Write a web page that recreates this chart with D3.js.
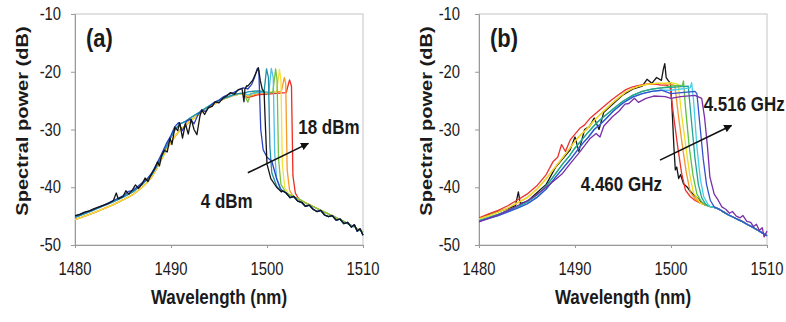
<!DOCTYPE html>
<html><head><meta charset="utf-8">
<script src="https://cdn.jsdelivr.net/npm/d3@7"></script>
<style>body{margin:0;background:#fff}svg{display:block}</style>
</head><body>
<svg id="c" width="786" height="322"></svg>
<script>
// ---------- tick labels ----------
const wavelengthTicks = [1480, 1490, 1500, 1510];
const powerTicks = [-10, -20, -30, -40, -50];

// ---------- panel (a): pump power sweep, 4..18 dBm ----------
const riseA_dark = [[1480,-44.9],[1480.5,-44.7],[1481,-44.3],[1481.5,-44.1],[1482,-43.7],[1482.5,-43.4],[1483,-43.1],[1483.5,-42.8],[1484,-42.3],[1484.3,-41.0],[1484.5,-42.0],[1485,-41.6],[1485.3,-40.6],[1485.6,-41.2],[1486,-40.4],[1486.3,-39.6],[1486.6,-40.2],[1487,-39.4],[1487.3,-38.4],[1487.6,-39.0],[1488,-37.6],[1488.3,-36.8],[1488.6,-35.6],[1488.8,-36.3],[1489.0,-34.6],[1489.3,-33.6],[1489.6,-33.9],[1489.9,-31.5],[1490.1,-32.6],[1490.4,-29.6],[1490.7,-30.2],[1490.9,-28.8],[1491.2,-31.5],[1491.5,-29.0],[1491.8,-30.8],[1492.1,-28.2],[1492.4,-30.0],[1492.7,-30.9],[1493.0,-27.8],[1493.2,-26.6],[1493.5,-27.4],[1493.9,-26.2],[1494.3,-26.0],[1494.6,-25.2],[1495.0,-25.4],[1495.4,-24.6],[1495.8,-24.2],[1496.2,-23.6],[1496.6,-23.9],[1497.0,-23.1],[1497.4,-22.9],[1497.6,-25.2],[1497.7,-23.0],[1497.9,-22.4]];
const riseA_blue = [[1480,-45.0],[1481,-44.4],[1482,-43.8],[1483,-43.1],[1484,-42.3],[1485,-41.5],[1485.6,-40.7],[1486,-40.6],[1487,-39.2],[1487.5,-38.6],[1488,-37.5],[1488.5,-36.0],[1489,-34.3],[1489.5,-32.5],[1490,-31.0],[1490.4,-29.5],[1490.8,-28.8],[1491.2,-30.2],[1491.6,-28.6],[1492,-28.2],[1492.4,-29.0],[1492.8,-27.5],[1493.2,-26.6],[1493.6,-26.9],[1494,-26.0],[1494.5,-25.3],[1495,-24.9],[1495.5,-24.3],[1496,-23.9],[1496.5,-23.6],[1497,-23.2],[1497.5,-22.8],[1497.9,-22.9]];
const riseA_cool = [[1480,-45.2],[1482,-43.9],[1484,-42.5],[1485,-41.7],[1486,-40.8],[1487,-39.5],[1488,-37.8],[1488.5,-36.4],[1489,-34.8],[1489.5,-33.0],[1490,-31.3],[1490.5,-29.8],[1491,-29.0],[1491.5,-28.6],[1492,-28.0],[1492.5,-27.5],[1493,-27.0],[1493.5,-26.4],[1494,-25.9],[1494.5,-25.4],[1495,-25.0],[1495.5,-24.6],[1496,-24.3],[1496.5,-24.0],[1497,-23.8],[1497.6,-23.7]];
const riseA_warm = [[1480,-45.6],[1481,-45.0],[1482,-44.4],[1483,-43.7],[1484,-43.0],[1485,-42.2],[1486,-41.3],[1487,-40.0],[1487.5,-39.2],[1488,-38.2],[1488.5,-36.8],[1489,-35.2],[1489.5,-33.6],[1490,-32.2],[1490.5,-31.0],[1491,-30.0],[1491.5,-29.3],[1492,-28.5],[1492.5,-27.9],[1493,-27.3],[1493.5,-26.7],[1494,-26.2],[1494.5,-25.6],[1495,-25.1],[1495.5,-24.7],[1496,-24.4],[1496.5,-24.1],[1497,-23.9],[1497.5,-23.8]];
const tailA_dark = [[1501.6,-40.6],[1502,-41.0],[1502.4,-41.8],[1502.8,-41.6],[1503.2,-42.4],[1503.6,-42.6],[1504,-43.3],[1504.4,-43.1],[1504.8,-43.8],[1505.2,-44.2],[1505.6,-44.0],[1506,-44.8],[1506.4,-45.1],[1506.8,-44.9],[1507.2,-45.7],[1507.6,-45.5],[1508,-46.3],[1508.4,-46.1],[1508.8,-46.9],[1509.1,-46.5],[1509.4,-47.6],[1509.7,-47.2],[1510,-48.3]];
const tailA_warm = [[1502,-40.8],[1502.5,-41.4],[1503,-41.8],[1503.5,-42.2],[1504,-42.7],[1504.5,-43.1],[1505,-43.5],[1505.5,-43.9],[1506,-44.3],[1506.5,-44.7],[1507,-45.1],[1507.5,-45.5],[1508,-45.9],[1508.5,-46.4],[1509,-46.8],[1509.5,-47.3],[1510,-47.8]];

const pumpLabels = ["18 dBm","16 dBm","14 dBm","12 dBm","10 dBm","8 dBm","4 dBm","6 dBm"];
const pumpColors = ["#ee2a1e","#f79a2a","#f2e23a","#78c043","#4cc0ea","#1f8fa6","#2742c4","#151515"];
const pumpRise = ["warm","warm","warm","cool","cool","cool","blue","dark"];
const pumpTail = ["warm","warm","warm","warm","dark","dark","dark","dark"];
const pumpEdges = [
  [[1498,-24.5],[1499,-24.0],[1502,-23.6],[1502.35,-21.4],[1502.55,-22.5],[1502.7,-38.0],[1502.95,-41.0],[1503.4,-42.3]],
  [[1498,-24.3],[1499,-23.8],[1501.5,-23.4],[1501.8,-21.0],[1501.95,-22.0],[1502.1,-37.0],[1502.35,-40.5],[1502.8,-41.8]],
  [[1498,-24.2],[1499,-23.6],[1501,-23.5],[1501.3,-19.6],[1501.45,-21.5],[1501.6,-36.0],[1501.85,-40.0],[1502.3,-41.3]],
  [[1498,-25.3],[1498.3,-23.8],[1499,-23.5],[1500.6,-23.6],[1500.9,-19.5],[1501.05,-21.5],[1501.2,-35.0],[1501.45,-39.5],[1502,-41.0]],
  [[1498,-24.0],[1499,-23.6],[1500.2,-23.5],[1500.45,-19.4],[1500.65,-21.0],[1500.8,-34.0],[1501.0,-38.5],[1501.5,-40.5]],
  [[1498,-23.5],[1499,-23.3],[1499.7,-23.4],[1499.95,-19.5],[1500.15,-21.0],[1500.3,-33.0],[1500.5,-37.5],[1501,-39.8],[1501.5,-40.8]],
  [[1498,-23.0],[1498.4,-22.2],[1498.7,-21.0],[1499.0,-19.4],[1499.15,-19.8],[1499.35,-30.0],[1499.6,-33.5],[1500,-34.8],[1500.5,-35.5],[1501,-38.5],[1501.4,-40.3]],
  [[1498,-22.5],[1498.5,-21.5],[1498.9,-20.0],[1499.1,-19.3],[1499.3,-21.5],[1499.5,-23.0],[1499.7,-23.5],[1499.8,-28.0],[1500.0,-36.0],[1500.4,-38.5],[1501,-40.0],[1501.5,-40.8]]
];

// ---------- panel (b): modulation frequency sweep, 4.460..4.516 GHz ----------
const riseB_black = [[1480,-45.4],[1481,-44.8],[1482,-44.2],[1483,-43.7],[1483.8,-43.2],[1484.1,-40.8],[1484.3,-42.8],[1485,-42.5],[1486,-41.0],[1487,-39.5],[1488,-36.5],[1489,-34.5],[1489.5,-33.5],[1490,-31.3],[1490.4,-33.8],[1491,-30.0],[1491.5,-29.5],[1492,-28.0],[1492.5,-30.0],[1493,-27.0],[1494,-25.5],[1495,-24.0],[1496,-23.0],[1497,-22.5],[1497.5,-21.3],[1498,-22.0],[1498.5,-21.0],[1499,-21.5],[1499.2,-19.6],[1499.35,-18.6],[1499.5,-21.0]];
const riseB_red = [[1480,-45.3],[1481,-44.6],[1482,-44.0],[1483,-43.2],[1484,-42.2],[1485,-41.2],[1486,-39.8],[1487,-37.8],[1487.7,-35.6],[1488.2,-34.8],[1488.6,-32.6],[1489.0,-33.8],[1489.5,-31.8],[1490.0,-30.8],[1490.5,-29.8],[1491,-29.2],[1491.6,-28.0],[1492.3,-27.0],[1493,-26.0],[1493.8,-24.9],[1494.6,-23.9],[1495.3,-23.1],[1496,-22.6],[1496.8,-22.3],[1497.6,-22.1],[1498.5,-22.2],[1499,-22.3]];
const riseB_warm = [[1480,-45.5],[1481,-44.9],[1482,-44.3],[1483,-43.6],[1484,-42.7],[1485,-41.8],[1486,-40.4],[1487,-38.5],[1488,-36.4],[1488.7,-34.9],[1489.4,-33.4],[1490,-32.0],[1490.6,-30.9],[1491.2,-30.0],[1491.8,-28.8],[1492.5,-27.6],[1493.2,-26.5],[1493.9,-25.4],[1494.6,-24.4],[1495.3,-23.5],[1496,-22.9],[1496.7,-22.5],[1497.5,-22.2],[1498.5,-22.0],[1499,-22.0]];
const riseB_cool = [[1480,-45.8],[1482,-44.7],[1484,-43.4],[1485,-42.6],[1486,-41.4],[1487,-39.8],[1488,-37.6],[1488.7,-36.0],[1489.4,-34.6],[1490,-33.2],[1490.6,-32.0],[1491.2,-30.8],[1492,-29.3],[1492.5,-28.5],[1493,-27.8],[1494,-26.4],[1495,-25.1],[1496,-24.1],[1497,-23.4],[1498,-23.0],[1499,-22.8]];
const riseB_mid = [[1480,-45.9],[1482,-44.9],[1484,-43.6],[1485,-42.9],[1486,-41.8],[1487,-40.3],[1488,-38.2],[1488.8,-36.6],[1489.5,-35.2],[1490.2,-33.7],[1490.8,-32.4],[1491.4,-31.3],[1492,-30.0],[1492.7,-29.0],[1493.3,-28.0],[1494,-26.8],[1495,-25.4],[1496,-24.4],[1497,-23.8],[1498,-23.4],[1499,-23.2]];
const riseB_violet = [[1480,-46.0],[1481,-45.4],[1482,-44.8],[1483,-44.0],[1484,-43.2],[1485.2,-42.2],[1486,-41.3],[1487,-40.0],[1488,-38.6],[1488.7,-37.6],[1489.5,-35.9],[1490.4,-34.1],[1491,-32.8],[1491.6,-31.5],[1492.2,-30.7],[1492.6,-31.3],[1493,-29.4],[1493.9,-27.8],[1494.6,-26.8],[1495.2,-25.6],[1495.6,-25.5],[1496.2,-24.6],[1496.6,-25.3],[1497.4,-24.6],[1498.2,-24.2],[1499.4,-24.3]];
const tailB = [[1501.2,-41.0],[1501.6,-41.5],[1502,-41.9],[1502.5,-42.3],[1503,-42.7],[1503.5,-43.0],[1504,-43.3],[1504.5,-43.5],[1505,-43.8],[1505.5,-44.3],[1506,-44.8],[1506.5,-45.2],[1507,-45.6],[1507.5,-46.0],[1508,-46.5],[1508.5,-46.9],[1509,-47.4],[1509.5,-47.9],[1510,-48.4]];
const tailB_violet = [[1505.3,-43.4],[1505.7,-43.8],[1506.1,-44.5],[1506.4,-44.2],[1506.8,-45.0],[1507.2,-45.3],[1507.5,-44.9],[1507.9,-45.9],[1508.3,-46.1],[1508.6,-46.8],[1508.9,-46.4],[1509.2,-47.5],[1509.5,-47.0],[1509.7,-48.6],[1510,-47.6]];

const freqLabels = ["4.460 GHz","4.467 GHz","4.474 GHz","4.481 GHz","4.488 GHz","4.495 GHz","4.502 GHz","4.509 GHz","4.516 GHz"];
const freqColors = ["#151515","#e8332e","#f7952a","#eedd22","#5cc046","#1ea596","#45cdea","#3452cf","#7a2ea8"];
const freqRise = ["black","red","warm","warm","cool","cool","mid","mid","violet"];
const freqTail = ["common","common","common","common","common","common","common","common","violet"];
const freqEdges = [
  [[1499.7,-21.5],[1499.95,-22.0],[1500.1,-26.0],[1500.3,-33.0],[1500.45,-37.0],[1500.6,-36.5],[1500.8,-38.5],[1501.0,-37.8],[1501.3,-39.4],[1501.7,-40.0],[1502,-40.7],[1502.5,-41.5],[1503,-42.3]],
  [[1499.5,-22.3],[1499.9,-22.6],[1500.3,-28.0],[1500.7,-33.0],[1501.1,-37.5],[1501.5,-40.5],[1502,-41.6]],
  [[1500,-22.2],[1500.4,-22.4],[1500.8,-28.0],[1501.2,-33.0],[1501.6,-37.5],[1502.0,-40.8],[1502.5,-42.0]],
  [[1500,-21.9],[1500.75,-22.2],[1501.15,-28.0],[1501.55,-33.0],[1501.95,-37.8],[1502.35,-41.0],[1502.9,-42.3]],
  [[1500,-22.5],[1501.2,-22.3],[1501.3,-21.6],[1501.5,-26.0],[1501.9,-33.0],[1502.3,-38.0],[1502.7,-41.2],[1503.2,-42.6]],
  [[1500,-22.7],[1501.8,-22.5],[1502.1,-28.0],[1502.5,-35.0],[1502.85,-39.5],[1503.2,-41.8],[1503.6,-42.9]],
  [[1500,-23.2],[1502.0,-22.8],[1502.15,-21.9],[1502.35,-25.0],[1502.7,-33.0],[1503.05,-38.5],[1503.4,-41.6],[1503.9,-43.1]],
  [[1500,-23.8],[1502.5,-23.4],[1502.7,-23.8],[1503.0,-29.0],[1503.35,-35.0],[1503.7,-39.5],[1504.1,-42.3],[1504.5,-43.4]],
  [[1500,-24.6],[1501,-24.3],[1502.5,-24.1],[1503.2,-24.6],[1503.5,-28.0],[1503.8,-33.0],[1504.05,-38.2],[1504.5,-41.2],[1504.9,-42.2],[1505.3,-43.4]]
];

// ---------- drawing ----------
const svg = d3.select('#c');
const SY = 1.18;           // vertical stretch of the original figure's text
const plotTop = 14, plotBottom = 245;

function txt(g, x, y, s, size, weight, anchor, extra) {
  return g.append('text')
    .attr('transform', `translate(${x},${y}) ${extra || ('scale(1,' + SY + ')')}`)
    .attr('font-family', 'Liberation Sans, Arial, sans-serif')
    .attr('font-size', size).attr('font-weight', weight)
    .attr('text-anchor', anchor).attr('fill', '#1a1a1a').text(s);
}

function drawPanel(p) {
  const x = d3.scaleLinear().domain([1480, 1510]).range([p.left, p.right]);
  const y = d3.scaleLinear().domain([-50, -10]).range([plotBottom, plotTop]);
  const g = svg.append('g');
  const cid = 'clip' + p.id;
  svg.append('clipPath').attr('id', cid).append('rect')
    .attr('x', p.left).attr('y', plotTop - 6).attr('width', p.right - p.left + 1).attr('height', plotBottom - plotTop + 6);

  g.append('rect').attr('x', p.left).attr('y', plotTop).attr('width', p.right - p.left).attr('height', plotBottom - plotTop)
    .attr('fill', 'none').attr('stroke', '#c4c4c4').attr('stroke-width', 1);

  const xa = g.append('g').attr('transform', `translate(0,${plotBottom})`)
    .call(d3.axisBottom(x).tickValues(wavelengthTicks).tickSize(3).tickSizeOuter(0).tickFormat(''));
  const ya = g.append('g').attr('transform', `translate(${p.left},0)`)
    .call(d3.axisLeft(y).tickValues(powerTicks).tickSize(4).tickSizeOuter(0).tickFormat(''));
  [xa, ya].forEach(a => { a.selectAll('line,path').attr('stroke', '#999'); });

  wavelengthTicks.forEach(v => txt(g, x(v), 275, v, 14.8, 'normal', 'middle'));
  powerTicks.forEach(v => txt(g, p.left - p.ylabPad, y(v) + 6, v, 14.8, 'normal', 'end'));

  txt(g, (p.left + p.right) / 2, 304, 'Wavelength (nm)', 17, 'bold', 'middle');
  txt(g, p.ytitleX, 121, 'Spectral power (dB)', 17, 'bold', 'middle', `rotate(-90) scale(${SY},1)`);
  txt(g, p.left + 11, 47, p.tag, 22, 'bold', 'start');

  const line = d3.line().x(d => x(d[0])).y(d => y(d[1]));
  const lines = g.append('g').attr('clip-path', `url(#${cid})`);
  p.series.forEach(s => {
    const last = s.edge[s.edge.length - 1][0];
    const pts = s.rise.concat(s.edge, s.tail.filter(d => d[0] > last));
    lines.append('path').datum(pts).attr('d', line)
      .attr('fill', 'none').attr('stroke', s.color).attr('stroke-width', 1.3).attr('stroke-linejoin', 'round');
  });

  const ar = p.arrow;
  const x1 = x(ar[0][0]), y1 = y(ar[0][1]), x2 = x(ar[1][0]), y2 = y(ar[1][1]);
  g.append('line').attr('x1', x1).attr('y1', y1).attr('x2', x2).attr('y2', y2)
    .attr('stroke', '#111').attr('stroke-width', 1.6).attr('marker-end', 'url(#ah)');

  p.labels.forEach(l => txt(g, x(l.at[0]), y(l.at[1]), l.text, 17, 'bold', 'start'));
}

svg.append('defs').append('marker').attr('id', 'ah').attr('viewBox', '0 0 10 10')
  .attr('refX', 9).attr('refY', 5).attr('markerWidth', 5).attr('markerHeight', 5)
  .attr('orient', 'auto').append('path').attr('d', 'M0,0L10,5L0,10z').attr('fill', '#111');

const risesA = { dark: riseA_dark, blue: riseA_blue, warm: riseA_warm, cool: riseA_cool };
const tailsA = { dark: tailA_dark, warm: tailA_warm };
const risesB = { black: riseB_black, red: riseB_red, warm: riseB_warm, cool: riseB_cool, mid: riseB_mid, violet: riseB_violet };
const tailsB = { common: tailB, violet: tailB_violet };

drawPanel({
  id: 'a', tag: '(a)', left: 75, right: 363, ylabPad: 14, ytitleX: 28,
  series: pumpLabels.map((n, i) => ({ name: n, color: pumpColors[i], rise: risesA[pumpRise[i]], edge: pumpEdges[i], tail: tailsA[pumpTail[i]] })),
  arrow: [[1498.0, -37.5], [1504.3, -32.4]],
  labels: [{ text: '18 dBm', at: [1503.25, -30.8] }, { text: '4 dBm', at: [1493.1, -43.6] }]
});
drawPanel({
  id: 'b', tag: '(b)', left: 479, right: 767, ylabPad: 19, ytitleX: 432,
  series: freqLabels.map((n, i) => ({ name: n, color: freqColors[i], rise: risesB[freqRise[i]], edge: freqEdges[i], tail: tailsB[freqTail[i]] })),
  arrow: [[1498.85, -35.3], [1506.3, -29.3]],
  labels: [{ text: '4.516 GHz', at: [1503.4, -26.8] }, { text: '4.460 GHz', at: [1490.6, -40.6] }]
});
</script>
</body></html>
